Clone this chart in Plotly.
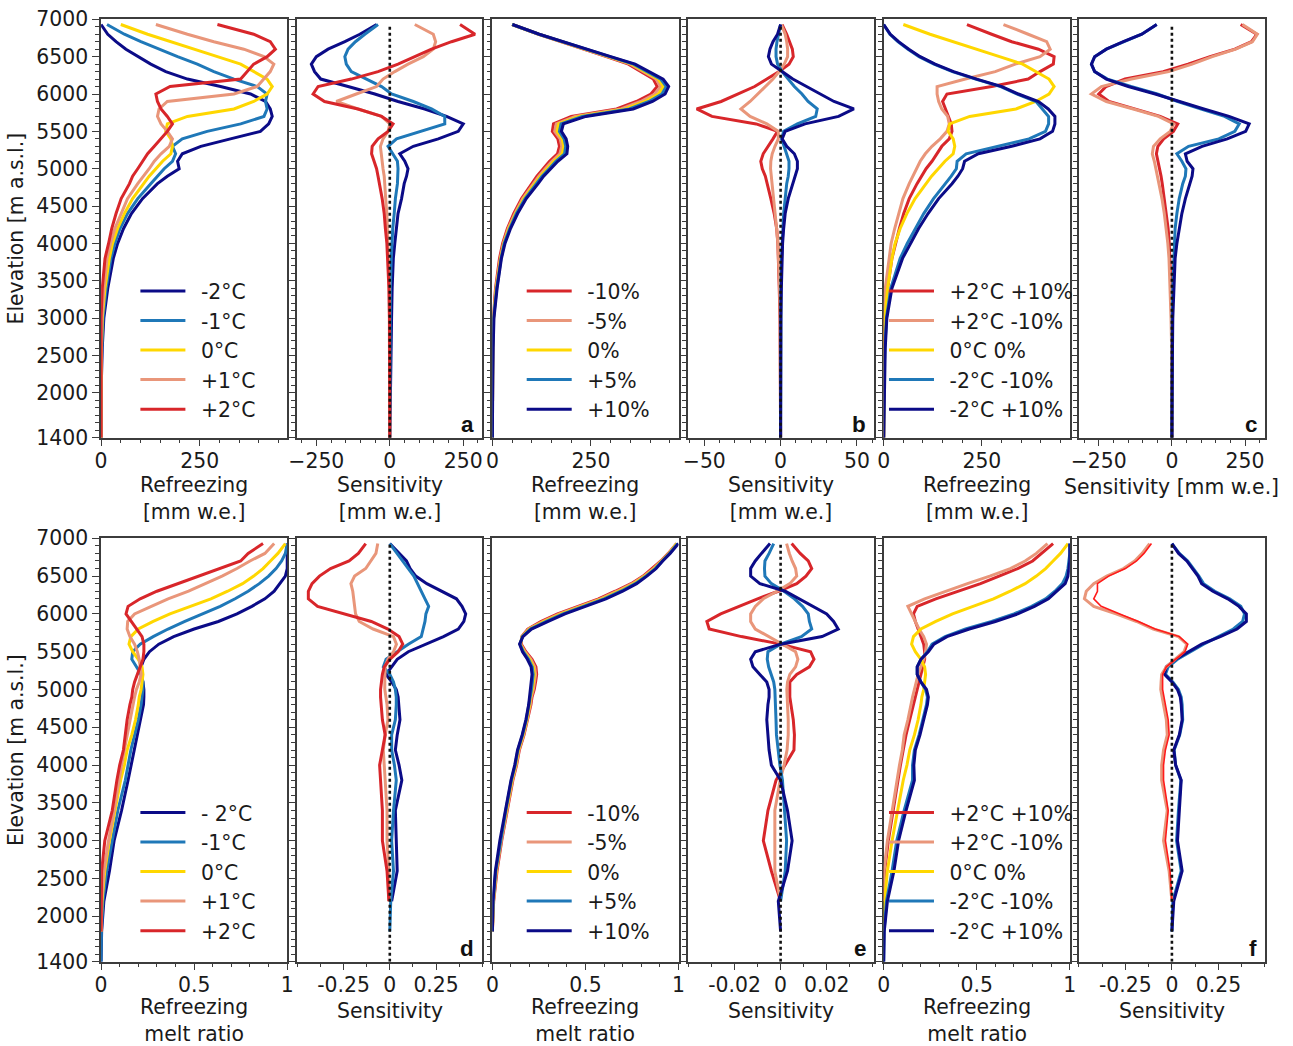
import plotly.graph_objects as go

# ---------------- data ----------------
ELEV = [1400, 1800, 2200, 2600, 3000, 3400, 3800, 4000, 4200, 4400, 4600, 4800, 4900, 5000,
        5100, 5200, 5300, 5400, 5500, 5600, 5700, 5800, 5900, 6000, 6100, 6200, 6300, 6400,
        6500, 6600, 6700, 6800, 6930]

# baseline run (0 °C, 0 %)
BASE_REFR = [0, 0, 0, 1, 3, 10, 21, 29, 42, 59, 80, 108, 122, 139, 156, 177, 181, 177, 164, 168,
             219, 337, 387, 421, 434, 421, 387, 354, 295, 236, 177, 118, 50]
BASE_RATIO = [None, 0.0, 0.005, 0.02, 0.045, 0.075, 0.105, 0.125, 0.14, 0.165, 0.185, 0.2, 0.205,
              0.215, 0.22, 0.225, 0.22, 0.2, 0.17, 0.15, 0.16, 0.2, 0.28, 0.37, 0.48, 0.59, 0.68,
              0.76, 0.82, 0.87, 0.91, 0.95, 0.99]

# row 1 - temperature refreezing [mm w.e.]
REFR_T_M2 = [0, 0, 1, 3, 7, 17, 31, 42, 57, 77, 105, 143, 168, 198, 194, 206, 253, 328, 404, 425,
             434, 429, 417, 379, 303, 219, 164, 126, 93, 63, 38, 17, 0]
REFR_T_M1 = [0, 0, 0, 2, 5, 13, 25, 35, 48, 67, 93, 126, 143, 160, 181, 189, 181, 206, 269, 354,
             413, 421, 417, 421, 396, 337, 286, 244, 194, 147, 101, 59, 15]
REFR_T_P1 = [0, 0, 0, 0, 2, 7, 15, 24, 35, 51, 67, 93, 108, 122, 135, 152, 173, 181, 168, 152,
             143, 147, 168, 337, 396, 413, 429, 438, 413, 362, 286, 219, 139]
REFR_T_P2 = [0, 0, 0, 0, 0, 3, 10, 19, 27, 38, 51, 72, 80, 93, 105, 118, 135, 152, 168, 181,
             168, 152, 143, 139, 175, 354, 370, 387, 421, 442, 429, 387, 295]
# row 1 - temperature sensitivity [mm w.e.]
SENS_T_M2 = [0, 1, 2, 3, 6, 8, 12, 17, 23, 28, 40, 49, 57, 62, 51, 34, 80, 165, 233, 250, 193,
             119, 28, -51, -142, -235, -256, -267, -250, -210, -153, -102, -45]
SENS_T_M1 = [0, 0, 0, 0, 1, 2, 5, 7, 10, 15, 19, 26, 28, 28, 26, 11, -6, 23, 108, 187, 187, 142,
             80, 6, -28, -80, -131, -148, -153, -142, -117, -85, -40]
SENS_T_P1 = [0, 0, 0, 0, -1, -2, -5, -6, -8, -10, -14, -17, -19, -23, -26, -31, -32, -23, -6, 0,
             -28, -108, -182, -114, -45, -23, 17, 62, 114, 148, 156, 148, 85]
SENS_T_P2 = [0, 0, 0, 0, -1, -3, -7, -10, -15, -19, -26, -34, -40, -45, -53, -62, -60, -40, -6, 11,
             -28, -108, -222, -261, -244, -131, -40, 28, 85, 142, 210, 290, 239]

# row 1 - precipitation refreezing [mm w.e.]
REFR_P_M10 = [0, 0, 0, 1, 2, 8, 18, 26, 38, 54, 74, 100, 113, 129, 145, 165, 170, 166, 152, 155,
              200, 315, 365, 402, 418, 408, 376, 345, 289, 232, 175, 117, 50]
REFR_P_M5 = [0, 0, 0, 1, 3, 9, 20, 28, 40, 57, 77, 104, 118, 134, 151, 171, 176, 172, 158, 162,
             210, 326, 376, 412, 426, 415, 382, 350, 292, 234, 176, 118, 50]
REFR_P_P5 = [0, 0, 0, 1, 3, 11, 22, 30, 44, 61, 83, 112, 126, 144, 161, 183, 186, 182, 170, 174,
             228, 347, 397, 430, 441, 427, 392, 358, 298, 238, 178, 118, 50]
REFR_P_P10 = [0, 0, 1, 2, 4, 12, 23, 32, 46, 64, 86, 116, 130, 148, 166, 189, 191, 187, 175, 180,
              237, 357, 406, 438, 447, 433, 396, 362, 300, 240, 179, 119, 51]
# row 1 - precipitation sensitivity [mm w.e.]
SENS_P_M10 = [0, 0, 0, 0, -0.4, -0.9, -1.3, -1.8, -2.6, -4.2, -6.4, -9, -10, -12, -13, -11.4, -8,
              -5, -2, -16, -45, -55, -39, -28, -17, -9, -1, 5.5, 8.3, 7.7, 6, 4, 1]
SENS_P_M5 = [0, 0, 0, 0, -0.2, -0.7, -1.3, -1.8, -2.6, -3.5, -4.6, -5.7, -6, -6.6, -6.4, -5.5,
             -3.7, -1.5, -1.5, -9, -20, -26, -20, -15, -10, -5, -1, 2.4, 4.6, 4.6, 4, 3, 0.5]
SENS_P_P5 = [0, 0, 0, 0, 0, 0.2, 0.6, 1, 1.5, 2, 3, 4, 5, 5.5, 5.5, 4, 2, 0.7, 2, 11, 23, 24, 18,
             14, 9, 5, 1, -2, -3, -3, -2.4, -1.3, 0]
SENS_P_P10 = [0, 0, 0, 0, 0.2, 0.5, 1, 1.3, 2, 3, 5, 8, 9, 11, 11, 9, 4, 1, 3, 16, 38, 48, 35, 26,
              16, 8, 1, -6, -8, -7, -5, -2, 0]

# row 1 - combined refreezing [mm w.e.]
REFR_C_P2P10 = [0, 0, 0, 0.5, 3, 10, 21, 30, 40, 51, 65, 85, 96, 108, 123, 135, 148, 167, 174, 172,
                165, 157, 150, 161, 275, 368, 398, 432, 434, 394, 326, 275, 212]
REFR_C_P2M10 = [0, 0, 0, 0, 1, 4, 13, 19, 28, 38, 49, 65, 74, 85, 93, 106, 123, 144, 161, 167, 163,
                148, 140, 136, 136, 208, 284, 335, 398, 424, 415, 368, 305]
REFR_C_M2M10 = [0, 0, 1, 3, 7, 18, 42, 60, 80, 102, 127, 158, 172, 185, 187, 210, 290, 370, 412,
                420, 420, 405, 388, 340, 298, 234, 175, 128, 90, 62, 36, 16, 0]
REFR_C_M2P10 = [0, 1, 2, 4, 8, 21, 48, 68, 89, 113, 140, 174, 189, 201, 206, 241, 326, 398, 430,
                436, 436, 419, 394, 343, 301, 237, 178, 131, 93, 64, 38, 17, 0]
# row 1 - combined sensitivity [mm w.e.]
SENS_C_P2P10 = [0, 0, 0, 0, -1, -3, -6, -9, -13, -19, -25, -33, -37, -42, -47, -53, -48, -28, 5,
                20, -40, -125, -215, -250, -225, -160, -30, 55, 130, 215, 272, 290, 235]
SENS_C_P2M10 = [0, 0, 0, -1, -3, -6, -10, -14, -19, -26, -34, -44, -48, -54, -60, -67, -63, -40,
                -6, 6, -46, -132, -224, -275, -241, -138, -11, 69, 138, 218, 275, 292, 241]
SENS_C_M2M10 = [0, 0, 0, 0, 1, 3, 6, 8, 11, 17, 25, 37, 46, 48, 34, 17, 57, 160, 215, 230, 180,
                100, 20, -50, -140, -220, -264, -275, -264, -224, -166, -103, -52]
SENS_C_M2P10 = [0, 0, 1, 2, 3, 7, 11, 17, 25, 34, 46, 60, 69, 72, 52, 46, 103, 189, 252, 264, 195,
                109, 29, -57, -149, -224, -264, -275, -264, -224, -166, -103, -52]

# row 2 - temperature refreezing / melt ratio
RATIO_T_M2 = [0.0, 0.003, 0.015, 0.045, 0.07, 0.11, 0.145, 0.162, 0.178, 0.195, 0.215, 0.228, 0.23,
              0.23, 0.225, 0.215, 0.215, 0.23, 0.26, 0.31, 0.39, 0.50, 0.63, 0.73, 0.81, 0.88,
              0.93, 0.96, 0.99, 1.0, 1.0, 1.0, 1.0]
RATIO_T_M1 = [0.0, 0.002, 0.01, 0.03, 0.06, 0.09, 0.13, 0.145, 0.16, 0.18, 0.2, 0.215, 0.22, 0.225,
              0.225, 0.215, 0.19, 0.165, 0.17, 0.21, 0.28, 0.36, 0.45, 0.55, 0.64, 0.72, 0.79,
              0.85, 0.90, 0.94, 0.97, 0.99, 1.0]
RATIO_T_P1 = [None, 0.0, 0.003, 0.015, 0.04, 0.07, 0.095, 0.11, 0.125, 0.14, 0.155, 0.17, 0.18,
              0.19, 0.205, 0.215, 0.21, 0.205, 0.195, 0.18, 0.155, 0.14, 0.143, 0.18, 0.27, 0.36,
              0.47, 0.56, 0.65, 0.73, 0.80, 0.88, 0.93]
RATIO_T_P2 = [None, 0.0, 0.0, 0.003, 0.02, 0.06, 0.085, 0.10, 0.12, 0.13, 0.14, 0.155, 0.165, 0.17,
              0.18, 0.195, 0.21, 0.225, 0.23, 0.23, 0.22, 0.19, 0.16, 0.134, 0.145, 0.21, 0.30,
              0.41, 0.52, 0.63, 0.75, 0.79, 0.87]
SENS_RT_M2 = [None, None, 0.01, 0.04, 0.035, 0.03, 0.065, 0.05, 0.03, 0.04, 0.055, 0.05, 0.045,
              0.035, 0.01, -0.02, 0.01, 0.04, 0.1, 0.2, 0.29, 0.37, 0.4, 0.41, 0.39, 0.36, 0.28,
              0.2, 0.14, 0.11, 0.09, 0.05, 0.0]
SENS_RT_M1 = [None, 0.0, 0.005, 0.02, 0.01, 0.02, 0.035, 0.025, 0.01, 0.01, 0.03, 0.035, 0.035,
              0.03, 0.02, 0.0, -0.035, -0.02, 0.04, 0.1, 0.17, 0.18, 0.19, 0.195, 0.21, 0.19, 0.17,
              0.15, 0.13, 0.1, 0.07, 0.035, 0.0]
SENS_RT_P1 = [None, None, -0.005, -0.005, -0.015, -0.015, -0.025, -0.03, -0.035, -0.025, -0.01,
              -0.015, -0.02, -0.027, -0.027, -0.027, -0.025, -0.01, 0.02, 0.036, 0.02, -0.09,
              -0.165, -0.185, -0.19, -0.195, -0.2, -0.21, -0.19, -0.13, -0.1, -0.075, -0.065]
SENS_RT_P2 = [None, None, -0.005, -0.015, -0.04, -0.04, -0.05, -0.055, -0.04, -0.025, -0.04,
              -0.048, -0.05, -0.05, -0.045, -0.04, -0.03, 0.0, 0.045, 0.07, 0.05, -0.01, -0.1,
              -0.24, -0.39, -0.44, -0.44, -0.42, -0.38, -0.32, -0.22, -0.17, -0.13]

# row 2 - precipitation refreezing / melt ratio
RATIO_P_M10 = [None, 0.0, 0.007, 0.025, 0.05, 0.08, 0.11, 0.13, 0.145, 0.17, 0.19, 0.207, 0.213,
               0.225, 0.232, 0.238, 0.234, 0.213, 0.18, 0.155, 0.158, 0.19, 0.26, 0.35, 0.46, 0.57,
               0.66, 0.745, 0.81, 0.86, 0.905, 0.945, 0.99]
RATIO_P_M5 = [None, 0.0, 0.006, 0.022, 0.048, 0.078, 0.108, 0.128, 0.143, 0.168, 0.188, 0.204,
              0.209, 0.22, 0.226, 0.232, 0.227, 0.207, 0.175, 0.152, 0.159, 0.195, 0.27, 0.36,
              0.47, 0.58, 0.67, 0.752, 0.815, 0.865, 0.907, 0.948, 0.99]
RATIO_P_P5 = [None, 0.0, 0.004, 0.018, 0.043, 0.072, 0.102, 0.122, 0.137, 0.162, 0.182, 0.197,
              0.202, 0.21, 0.215, 0.219, 0.214, 0.194, 0.166, 0.148, 0.162, 0.205, 0.29, 0.38,
              0.49, 0.60, 0.69, 0.768, 0.825, 0.875, 0.913, 0.952, 0.995]
RATIO_P_P10 = [None, 0.0, 0.003, 0.016, 0.04, 0.07, 0.1, 0.12, 0.135, 0.16, 0.18, 0.195, 0.2,
               0.207, 0.21, 0.213, 0.208, 0.188, 0.162, 0.146, 0.164, 0.21, 0.30, 0.39, 0.50, 0.61,
               0.70, 0.775, 0.83, 0.88, 0.915, 0.955, 1.0]
SENS_RP_M10 = [None, None, 0.0, -0.004, -0.0075, -0.0055, -0.002, 0.002, 0.0058, 0.006, 0.0055,
               0.0045, 0.004, 0.004, 0.004, 0.007, 0.0125, 0.0145, 0.013, 0.0, -0.017, -0.031,
               -0.032, -0.026, -0.018, -0.01, -0.001, 0.007, 0.011, 0.0135, 0.012, 0.0085, 0.0048]
SENS_RP_M5 = [None, None, 0.0, -0.0025, -0.0025, -0.0025, -0.0002, 0.0015, 0.0028, 0.0033, 0.0033,
              0.003, 0.0026, 0.0027, 0.003, 0.004, 0.0065, 0.0075, 0.0065, 0.0005, -0.005, -0.011,
              -0.013, -0.013, -0.011, -0.0075, -0.0015, 0.004, 0.007, 0.0065, 0.005, 0.0038, 0.0026]
SENS_RP_P5 = [None, None, 0.0, 0.002, 0.0026, 0.0018, 0.0008, -0.0003, -0.001, -0.0018, -0.002,
              -0.0022, -0.0023, -0.0025, -0.003, -0.004, -0.0052, -0.0058, -0.0055, 0.0, 0.009,
              0.0135, 0.0125, 0.012, 0.0095, 0.006, 0.0015, -0.004, -0.0068, -0.007, -0.0068,
              -0.005, -0.003]
SENS_RP_P10 = [None, 0.0, -0.001, 0.003, 0.005, 0.003, 0.0, -0.004, -0.005, -0.0055, -0.006,
               -0.0055, -0.005, -0.005, -0.006, -0.009, -0.012, -0.013, -0.011, 0.0, 0.018, 0.025,
               0.023, 0.02, 0.014, 0.0085, 0.002, -0.009, -0.013, -0.013, -0.011, -0.0083, -0.0046]

# row 2 - combined refreezing / melt ratio
RATIO_C_P2P10 = [None, None, 0.0, 0.005, 0.025, 0.05, 0.075, 0.09, 0.105, 0.12, 0.14, 0.16, 0.17,
                 0.18, 0.19, 0.2, 0.21, 0.22, 0.22, 0.215, 0.2, 0.185, 0.17, 0.16, 0.18, 0.28, 0.40,
                 0.52, 0.62, 0.72, 0.80, 0.85, 0.91]
RATIO_C_P2M10 = [None, None, 0.0, 0.002, 0.02, 0.045, 0.07, 0.085, 0.1, 0.11, 0.13, 0.145, 0.155,
                 0.165, 0.175, 0.185, 0.2, 0.215, 0.225, 0.23, 0.215, 0.19, 0.17, 0.15, 0.13, 0.22,
                 0.33, 0.45, 0.57, 0.68, 0.76, 0.82, 0.88]
RATIO_C_M2M10 = [0.0, 0.002, 0.015, 0.045, 0.07, 0.11, 0.155, 0.155, 0.165, 0.19, 0.21, 0.23, 0.235,
                 0.225, 0.2, 0.18, 0.18, 0.2, 0.235, 0.26, 0.33, 0.44, 0.58, 0.70, 0.795, 0.87, 0.92,
                 0.96, 0.98, 0.99, 0.995, 1.0, 1.0]
RATIO_C_M2P10 = [0.0, 0.003, 0.02, 0.055, 0.08, 0.12, 0.165, 0.162, 0.17, 0.195, 0.215, 0.235, 0.24,
                 0.23, 0.2, 0.18, 0.18, 0.2, 0.24, 0.27, 0.34, 0.46, 0.6, 0.72, 0.81, 0.885, 0.93,
                 0.975, 0.99, 0.995, 1.0, 1.0, 1.0]
SENS_RC_M2P10 = [None, 0.0, 0.01, 0.055, 0.03, 0.04, 0.05, 0.02, 0.01, 0.04, 0.055, 0.05, 0.045,
                 0.03, 0.0, -0.04, -0.03, 0.02, 0.09, 0.16, 0.26, 0.35, 0.4, 0.4, 0.36, 0.3, 0.22,
                 0.16, 0.14, 0.11, 0.08, 0.036, 0.0]
SENS_RC_M2M10 = [None, 0.0, 0.005, 0.05, 0.025, 0.035, 0.048, 0.02, 0.012, 0.042, 0.058, 0.055,
                 0.05, 0.035, 0.005, -0.035, -0.02, 0.03, 0.1, 0.17, 0.25, 0.33, 0.38, 0.39, 0.37,
                 0.31, 0.23, 0.17, 0.145, 0.115, 0.085, 0.04, 0.0]
SENS_RC_P2M10 = [None, None, 0.0, -0.015, -0.045, -0.025, -0.055, -0.055, -0.045, -0.025, -0.03,
                 -0.045, -0.055, -0.06, -0.058, -0.055, -0.03, 0.02, 0.065, 0.08, 0.035, -0.1,
                 -0.19, -0.3, -0.42, -0.47, -0.46, -0.42, -0.35, -0.26, -0.2, -0.16, -0.12]
SENS_RC_P2P10 = [None, None, 0.0, -0.01, -0.035, -0.02, -0.045, -0.045, -0.035, -0.015, -0.02,
                 -0.035, -0.045, -0.05, -0.05, -0.05, -0.03, 0.02, 0.07, 0.085, 0.04, -0.09, -0.18,
                 -0.28, -0.38, -0.42, -0.40, -0.40, -0.34, -0.25, -0.19, -0.15, -0.11]

TEMP_LABELS = ["-2°C", "-1°C", "0°C", "+1°C", "+2°C"]
TEMP_LABELS_2 = ["- 2°C", "-1°C", "0°C", "+1°C", "+2°C"]
PREC_LABELS = ["-10%", "-5%", "0%", "+5%", "+10%"]
COMB_LABELS = ["+2°C +10%", "+2°C -10%", "0°C 0%", "-2°C -10%", "-2°C +10%"]

Y_TICKS = [1400, 2000, 2500, 3000, 3500, 4000, 4500, 5000, 5500, 6000, 6500, 7000]
ZERO_LINE_X = [0, 0]
ZERO_LINE_Y = [1400, 6930]

# ---------------- style ----------------
NAVY = "#0b0b87"
BLUE = "#1f78b8"
YELLOW = "#ffd700"
SALMON = "#e9967a"
RED = "#d8262a"
BRIGHT_RED = "#ff1a1a"
FONT = "DejaVu Sans"
FS = 20.4
TXT = "#1a1a1a"
AXC = "#3c3c3c"
W, H = 1293, 1046
# the photographed page shows the figure inside an 8 px / 12 px frame;
# all positions below are target pixels in the final picture
OX, OY = 8.0, 12.0
SX, SY = (W - 2 * OX) / W, (H - 2 * OY) / H
COL_PX = [(100, 286), (296, 481), (491, 677), (686, 872), (882, 1068), (1077, 1263)]
ROW_PX = [(19.3, 437.7), (538.3, 961.7)]
TITLE_DY = [60.75, 58.3]
LW = 3.0
GAP = "\u00a0\u2009"

fig = go.Figure()
layout = {}
annotations = []
shapes = []


def px_x(p):
    return ((p - OX) / SX) / W


def px_y(p):
    return 1 - ((p - OY) / SY) / H


def add_panel(k, row, col, series, xr, tickvals, ticktext, minor_dtick, xtitle,
              letter=None, legend_id=None, legend_pos=None):
    x0, x1 = COL_PX[col]
    y0, y1 = ROW_PX[row]
    xname = "x" if k == 1 else f"x{k}"
    yname = "y" if k == 1 else f"y{k}"
    for label, vals, color, width in series:
        fig.add_trace(go.Scatter(
            x=vals, y=ELEV, mode="lines", name=GAP + label,
            line=dict(color=color, width=width),
            xaxis=xname, yaxis=yname,
            showlegend=legend_id is not None,
            legend=legend_id if legend_id else "legend",
            legendgroup=f"g{k}_{label}",
            hoverinfo="skip",
        ))
    common = dict(showline=True, linecolor=AXC, linewidth=1.5, mirror=True, showgrid=False,
                  zeroline=False, ticks="outside", ticklen=7, tickwidth=1.3, tickcolor=AXC,
                  layer="below traces",
                  tickfont=dict(family=FONT, size=FS, color=TXT))
    layout["xaxis" if k == 1 else f"xaxis{k}"] = dict(
        domain=[px_x(x0), px_x(x1)], anchor=yname, range=xr,
        tickmode="array", tickvals=tickvals, ticktext=ticktext, ticklabelstandoff=-3,
        minor=dict(tick0=0, dtick=minor_dtick, ticks="outside", ticklen=4, tickwidth=1,
                   tickcolor=AXC),
        **common)
    layout["yaxis" if k == 1 else f"yaxis{k}"] = dict(
        domain=[px_y(y1), px_y(y0)], anchor=xname, range=[1400, 7000],
        tickmode="array", tickvals=Y_TICKS, ticktext=[str(v) for v in Y_TICKS],
        showticklabels=(col == 0),
        minor=dict(tick0=0, dtick=100, ticks="outside", ticklen=4, tickwidth=1, tickcolor=AXC),
        **common)
    cx = (x0 + x1) / 2
    n_lines = xtitle.count("<br>") + 1
    cy = y1 + (49.5 if n_lines == 1 else TITLE_DY[row])
    annotations.append(dict(text=xtitle, xref="paper", yref="paper", x=px_x(cx),
                            y=px_y(cy), xanchor="center", yanchor="middle",
                            showarrow=False, font=dict(family=FONT, size=FS, color=TXT)))
    if letter:
        annotations.append(dict(text=f"<b>{letter}</b>", xref="paper", yref="paper",
                                x=px_x(x1 - 6), y=px_y(y1 + 1), xanchor="right",
                                yanchor="bottom", showarrow=False,
                                font=dict(family="Liberation Sans", size=22.4, color="#111")))
        shapes.append(dict(type="line", xref=xname, yref=yname,
                           x0=ZERO_LINE_X[0], x1=ZERO_LINE_X[1],
                           y0=ZERO_LINE_Y[0], y1=ZERO_LINE_Y[1],
                           line=dict(color="#111", width=2.6, dash="dot")))
    if legend_id:
        lx, ly = legend_pos
        layout[legend_id] = dict(x=px_x(lx), y=px_y(ly), xanchor="left", yanchor="top",
                                 bgcolor="rgba(0,0,0,0)", borderwidth=0,
                                 font=dict(family=FONT, size=FS, color=TXT),
                                 tracegroupgap=4, itemwidth=45, traceorder="normal")


LEG_X = [134.3, 520.3, 882.3]
LEG_Y = [271.3, 792.8]

# ---- row 1 ----
add_panel(1, 0, 0,
          [(TEMP_LABELS[0], REFR_T_M2, NAVY, LW), (TEMP_LABELS[1], REFR_T_M1, BLUE, LW),
           (TEMP_LABELS[2], BASE_REFR, YELLOW, LW), (TEMP_LABELS[3], REFR_T_P1, SALMON, LW),
           (TEMP_LABELS[4], REFR_T_P2, RED, LW)],
          [0, 472], [0, 250], ["0", "250"], 50, "Refreezing<br>[mm w.e.]",
          legend_id="legend", legend_pos=(LEG_X[0], LEG_Y[0]))
add_panel(2, 0, 1,
          [("s-2", SENS_T_M2, NAVY, LW), ("s-1", SENS_T_M1, BLUE, LW),
           ("s+1", SENS_T_P1, SALMON, LW), ("s+2", SENS_T_P2, RED, LW)],
          [-315, 315], [-250, 0, 250], ["\u2212250", "0", "250"], 50,
          "Sensitivity<br>[mm w.e.]", letter="a")
add_panel(3, 0, 2,
          [(PREC_LABELS[0], REFR_P_M10, RED, LW), (PREC_LABELS[1], REFR_P_M5, SALMON, LW),
           (PREC_LABELS[2], BASE_REFR, YELLOW, LW), (PREC_LABELS[3], REFR_P_P5, BLUE, LW),
           (PREC_LABELS[4], REFR_P_P10, NAVY, LW)],
          [0, 472], [0, 250], ["0", "250"], 50, "Refreezing<br>[mm w.e.]",
          legend_id="legend2", legend_pos=(LEG_X[1], LEG_Y[0]))
add_panel(4, 0, 3,
          [("p-10", SENS_P_M10, RED, LW), ("p-5", SENS_P_M5, SALMON, LW),
           ("p+5", SENS_P_P5, BLUE, LW), ("p+10", SENS_P_P10, NAVY, LW)],
          [-61, 61], [-50, 0, 50], ["\u221250", "0", "50"], 10,
          "Sensitivity<br>[mm w.e.]", letter="b")
add_panel(5, 0, 4,
          [(COMB_LABELS[0], REFR_C_P2P10, RED, LW), (COMB_LABELS[1], REFR_C_P2M10, SALMON, LW),
           (COMB_LABELS[2], BASE_REFR, YELLOW, LW), (COMB_LABELS[3], REFR_C_M2M10, BLUE, LW),
           (COMB_LABELS[4], REFR_C_M2P10, NAVY, LW)],
          [0, 474], [0, 250], ["0", "250"], 50, "Refreezing<br>[mm w.e.]",
          legend_id="legend3", legend_pos=(LEG_X[2], LEG_Y[0]))
add_panel(6, 0, 5,
          [("c1", SENS_C_P2P10, RED, LW), ("c2", SENS_C_P2M10, SALMON, LW),
           ("c3", SENS_C_M2M10, BLUE, LW), ("c4", SENS_C_M2P10, NAVY, LW)],
          [-318, 318], [-250, 0, 250], ["\u2212250", "0", "250"], 50,
          "Sensitivity [mm w.e.]", letter="c")

# ---- row 2 ----
add_panel(7, 1, 0,
          [(TEMP_LABELS_2[0], RATIO_T_M2, NAVY, LW), (TEMP_LABELS_2[1], RATIO_T_M1, BLUE, LW),
           (TEMP_LABELS_2[2], BASE_RATIO, YELLOW, LW), (TEMP_LABELS_2[3], RATIO_T_P1, SALMON, LW),
           (TEMP_LABELS_2[4], RATIO_T_P2, RED, LW)],
          [0, 1], [0, 0.5, 1], ["0", "0.5", "1"], 0.1, "Refreezing<br>melt ratio",
          legend_id="legend4", legend_pos=(LEG_X[0], LEG_Y[1]))
add_panel(8, 1, 1,
          [("r-2", SENS_RT_M2, NAVY, LW), ("r-1", SENS_RT_M1, BLUE, LW),
           ("r+1", SENS_RT_P1, SALMON, LW), ("r+2", SENS_RT_P2, RED, LW)],
          [-0.5, 0.5], [-0.25, 0, 0.25], ["-0.25", "0", "0.25"], 0.125,
          "Sensitivity", letter="d")
add_panel(9, 1, 2,
          [(PREC_LABELS[0], RATIO_P_M10, RED, LW), (PREC_LABELS[1], RATIO_P_M5, SALMON, LW),
           (PREC_LABELS[2], BASE_RATIO, YELLOW, LW), (PREC_LABELS[3], RATIO_P_P5, BLUE, LW),
           (PREC_LABELS[4], RATIO_P_P10, NAVY, LW)],
          [0, 1], [0, 0.5, 1], ["0", "0.5", "1"], 0.1, "Refreezing<br>melt ratio",
          legend_id="legend5", legend_pos=(LEG_X[1], LEG_Y[1]))
add_panel(10, 1, 3,
          [("q-10", SENS_RP_M10, RED, LW), ("q-5", SENS_RP_M5, SALMON, LW),
           ("q+5", SENS_RP_P5, BLUE, LW), ("q+10", SENS_RP_P10, NAVY, LW)],
          [-0.0404, 0.0404], [-0.02, 0, 0.02], ["-0.02", "0", "0.02"], 0.01,
          "Sensitivity", letter="e")
add_panel(11, 1, 4,
          [(COMB_LABELS[0], RATIO_C_P2P10, RED, LW), (COMB_LABELS[1], RATIO_C_P2M10, SALMON, LW),
           (COMB_LABELS[2], BASE_RATIO, YELLOW, LW), (COMB_LABELS[3], RATIO_C_M2M10, BLUE, LW),
           (COMB_LABELS[4], RATIO_C_M2P10, NAVY, LW)],
          [0, 1], [0, 0.5, 1], ["0", "0.5", "1"], 0.1, "Refreezing<br>melt ratio",
          legend_id="legend6", legend_pos=(LEG_X[2], LEG_Y[1]))
add_panel(12, 1, 5,
          [("d1", SENS_RC_M2M10, BLUE, LW), ("d2", SENS_RC_M2P10, NAVY, LW),
           ("d3", SENS_RC_P2M10, SALMON, LW), ("d4", SENS_RC_P2P10, BRIGHT_RED, 1.6)],
          [-0.5, 0.5], [-0.25, 0, 0.25], ["-0.25", "0", "0.25"], 0.125,
          "Sensitivity", letter="f")

# y-axis titles
for (y0, y1) in ROW_PX:
    annotations.append(dict(text="Elevation [m a.s.l.]", xref="paper", yref="paper",
                            x=px_x(15), y=px_y((y0 + y1) / 2), xanchor="center",
                            yanchor="middle", textangle=-90, showarrow=False,
                            font=dict(family=FONT, size=FS, color=TXT)))

fig.update_layout(
    autosize=True, margin=dict(l=0, r=0, t=0, b=0, pad=0),
    paper_bgcolor="white", plot_bgcolor="white",
    annotations=annotations, shapes=shapes, showlegend=True,
    **layout,
)

fig.write_html(
    "out.html",
    config={"displayModeBar": False},
    default_width="1293px;position:absolute;left:0;top:0",
    default_height="1046px",
    post_script="document.body.style.margin='0';",
)
